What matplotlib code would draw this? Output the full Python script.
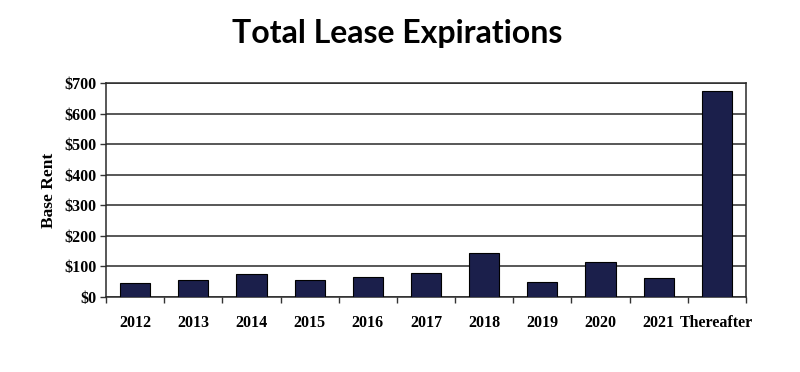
import numpy as np
import matplotlib
matplotlib.use("Agg")
import matplotlib.pyplot as plt
from matplotlib.ticker import FixedLocator

# data
categories = ["2012", "2013", "2014", "2015", "2016", "2017", "2018", "2019", "2020", "2021", "Thereafter"]
base_rent = [46, 57, 74, 57, 66, 77, 144, 49, 113, 62, 675]
y_ticks = [0, 100, 200, 300, 400, 500, 600, 700]

BAR_COLOR = "#1b1f4b"
SERIF = ["Liberation Serif", "DejaVu Serif"]

fig = plt.figure(figsize=(8, 3.72), dpi=100)
ax = fig.add_axes([0.1325, 0.2016, 0.80, 0.5753])

x = np.arange(len(categories))
ax.bar(x, base_rent, width=0.52, color=BAR_COLOR, edgecolor="black", linewidth=0.8, zorder=3)

ax.set_xlim(-0.5, len(categories) - 0.5)
ax.set_ylim(0, 700)

# grid lines
ax.set_yticks(y_ticks)
ax.set_yticklabels([f"${v}" for v in y_ticks], fontfamily=SERIF, fontweight="bold", fontsize=11.5)
ax.yaxis.grid(True, color="#2a2a2a", linewidth=1.1, zorder=0)

# category labels centred, tick marks on the boundaries
ax.set_xticks(x)
ax.set_xticklabels(categories, fontfamily=SERIF, fontweight="bold", fontsize=11.5)
ax.tick_params(axis="x", which="major", length=0, pad=13)
ax.xaxis.set_minor_locator(FixedLocator(np.arange(-0.5, len(categories), 1.0)))
ax.tick_params(axis="x", which="minor", length=4, width=1, direction="out", color="#333333")
ax.tick_params(axis="y", length=4, width=1, color="#333333", pad=3)

for side in ["left", "right", "bottom", "top"]:
    ax.spines[side].set_color("#2a2a2a")
    ax.spines[side].set_linewidth(1.1)

ax.set_ylabel("Base Rent", fontfamily=SERIF, fontweight="bold", fontsize=12.5, labelpad=5)

fig.text(0.497, 0.91, "Total Lease Expirations", ha="center", va="center",
         fontfamily=["Lato", "DejaVu Sans"], fontweight="bold", fontsize=23)

fig.savefig("out.png", dpi=100)
